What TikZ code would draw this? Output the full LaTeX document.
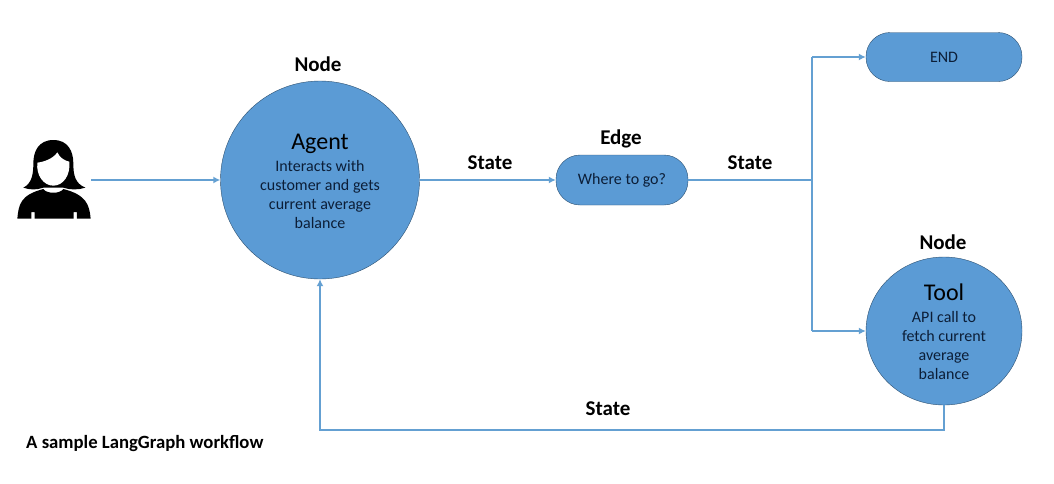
\documentclass[tikz,border=0pt]{standalone}
\usepackage{fontspec}
\setmainfont{Carlito}
\usetikzlibrary{arrows.meta,shapes.geometric}
\definecolor{nodeblue}{RGB}{91,155,213}
\definecolor{nodeline}{RGB}{45,80,112}
\definecolor{linkblue}{RGB}{100,160,210}
\definecolor{nodetext}{RGB}{12,30,55}
\begin{document}
\begin{tikzpicture} [
            x=1pt,
            y=-1pt,
            round vertex/.style={ellipse,draw=nodeline,fill=nodeblue,inner sep=0pt},
            pill vertex/.style={rectangle,rounded corners=24pt,draw=nodeline,fill=nodeblue,inner sep=0pt,text=nodetext,font=\fontsize{16}{19}\selectfont},
            vertex text/.style={align=center,inner sep=0pt,text=nodetext,font=\fontsize{16}{19}\selectfont},
            link/.style = {draw=linkblue,line width=2pt,-{Latex[length=7pt,width=7pt]}},
            plain link/.style = {draw=linkblue,line width=2pt,-},
            weight/.style = {font=\fontsize{21}{24}\selectfont\bfseries}
        ]
        \useasboundingbox (0,0) rectangle (1054,483);
        % First we draw the vertices
        \node[round vertex,minimum width=199pt,minimum height=198pt] (agent) at (320,180) {};
        \node[pill vertex,minimum width=132pt,minimum height=50pt] (where) at (622,180) {Where to go?};
        \node[pill vertex,minimum width=156pt,minimum height=49pt] (end) at (944,57) {END};
        \node[round vertex,minimum width=156pt,minimum height=148pt] (tool) at (944,331) {};
        % The text inside the circles
        \node[vertex text] (agenttext) at (320,181) {{\color{black}\fontsize{24}{24}\selectfont Agent}\\[3pt]Interacts with\\customer and gets\\current average\\balance};
        \node[vertex text] (tooltext) at (944,332) {{\color{black}\fontsize{24}{24}\selectfont Tool}\\[3pt]API call to\\fetch current\\average\\balance};
        % The person on the left
        \begin{scope}[shift={(0,120)},scale=1/3]
            \fill[black] (160,60) .. controls (115,60) and (100,95) .. (100,130)
                .. controls (100,165) and (95,190) .. (70,203)
                .. controls (90,210) and (110,210) .. (130,203)
                -- (190,203) .. controls (210,210) and (235,210) .. (256,203)
                .. controls (225,190) and (220,165) .. (220,130)
                .. controls (220,95) and (205,60) .. (160,60) -- cycle;
            \fill[white] (112,128) .. controls (135,125) and (160,115) .. (172,97)
                .. controls (180,115) and (195,122) .. (208,125)
                .. controls (212,165) and (190,197) .. (160,197)
                .. controls (130,197) and (108,165) .. (112,128) -- cycle;
            \fill[black] (52,296) .. controls (56,255) and (60,225) .. (130,207)
                .. controls (140,222) and (180,222) .. (190,207)
                .. controls (260,225) and (268,255) .. (272,296)
                -- (231,296) -- (231,276) -- (221,276) -- (221,296)
                -- (104,296) -- (104,276) -- (94,276) -- (94,296) -- cycle;
        \end{scope}
        \coordinate (user) at (91,180);
        \coordinate (fork) at (812,180);
        \coordinate (upper) at (812,57);
        \coordinate (lower) at (812,331);
        \coordinate (toolfoot) at (944,430);
        \coordinate (agentfoot) at (320,430);
        % Connect vertices with edges
        \foreach \source/ \dest in {user/agent, agent/where, upper/end, lower/tool}
            \path[link] (\source) -- (\dest);
        \path[plain link,line width=2.4pt] (where) -- (fork);
        \path[plain link] (upper) -- (lower);
        \path[link] (tool) -- (toolfoot) -- (agentfoot) -- (agent);
        % Labels above the vertices and links
        \foreach \pos/\name/\text in {
                {(318,64)/nodea/Node},
                {(621,139)/edgea/Edge},
                {(943,242)/nodeb/Node},
                {(490,163)/statea/State},
                {(750,163)/stateb/State},
                {(608,409)/statec/State}}
            \node[weight] (\name) at \pos {\text};
        \node[font=\fontsize{18.7}{22}\selectfont\bfseries,anchor=west,inner sep=0pt] (caption) at (26,443.5) {A sample LangGraph workflow};
    \end{tikzpicture}
\end{document}
